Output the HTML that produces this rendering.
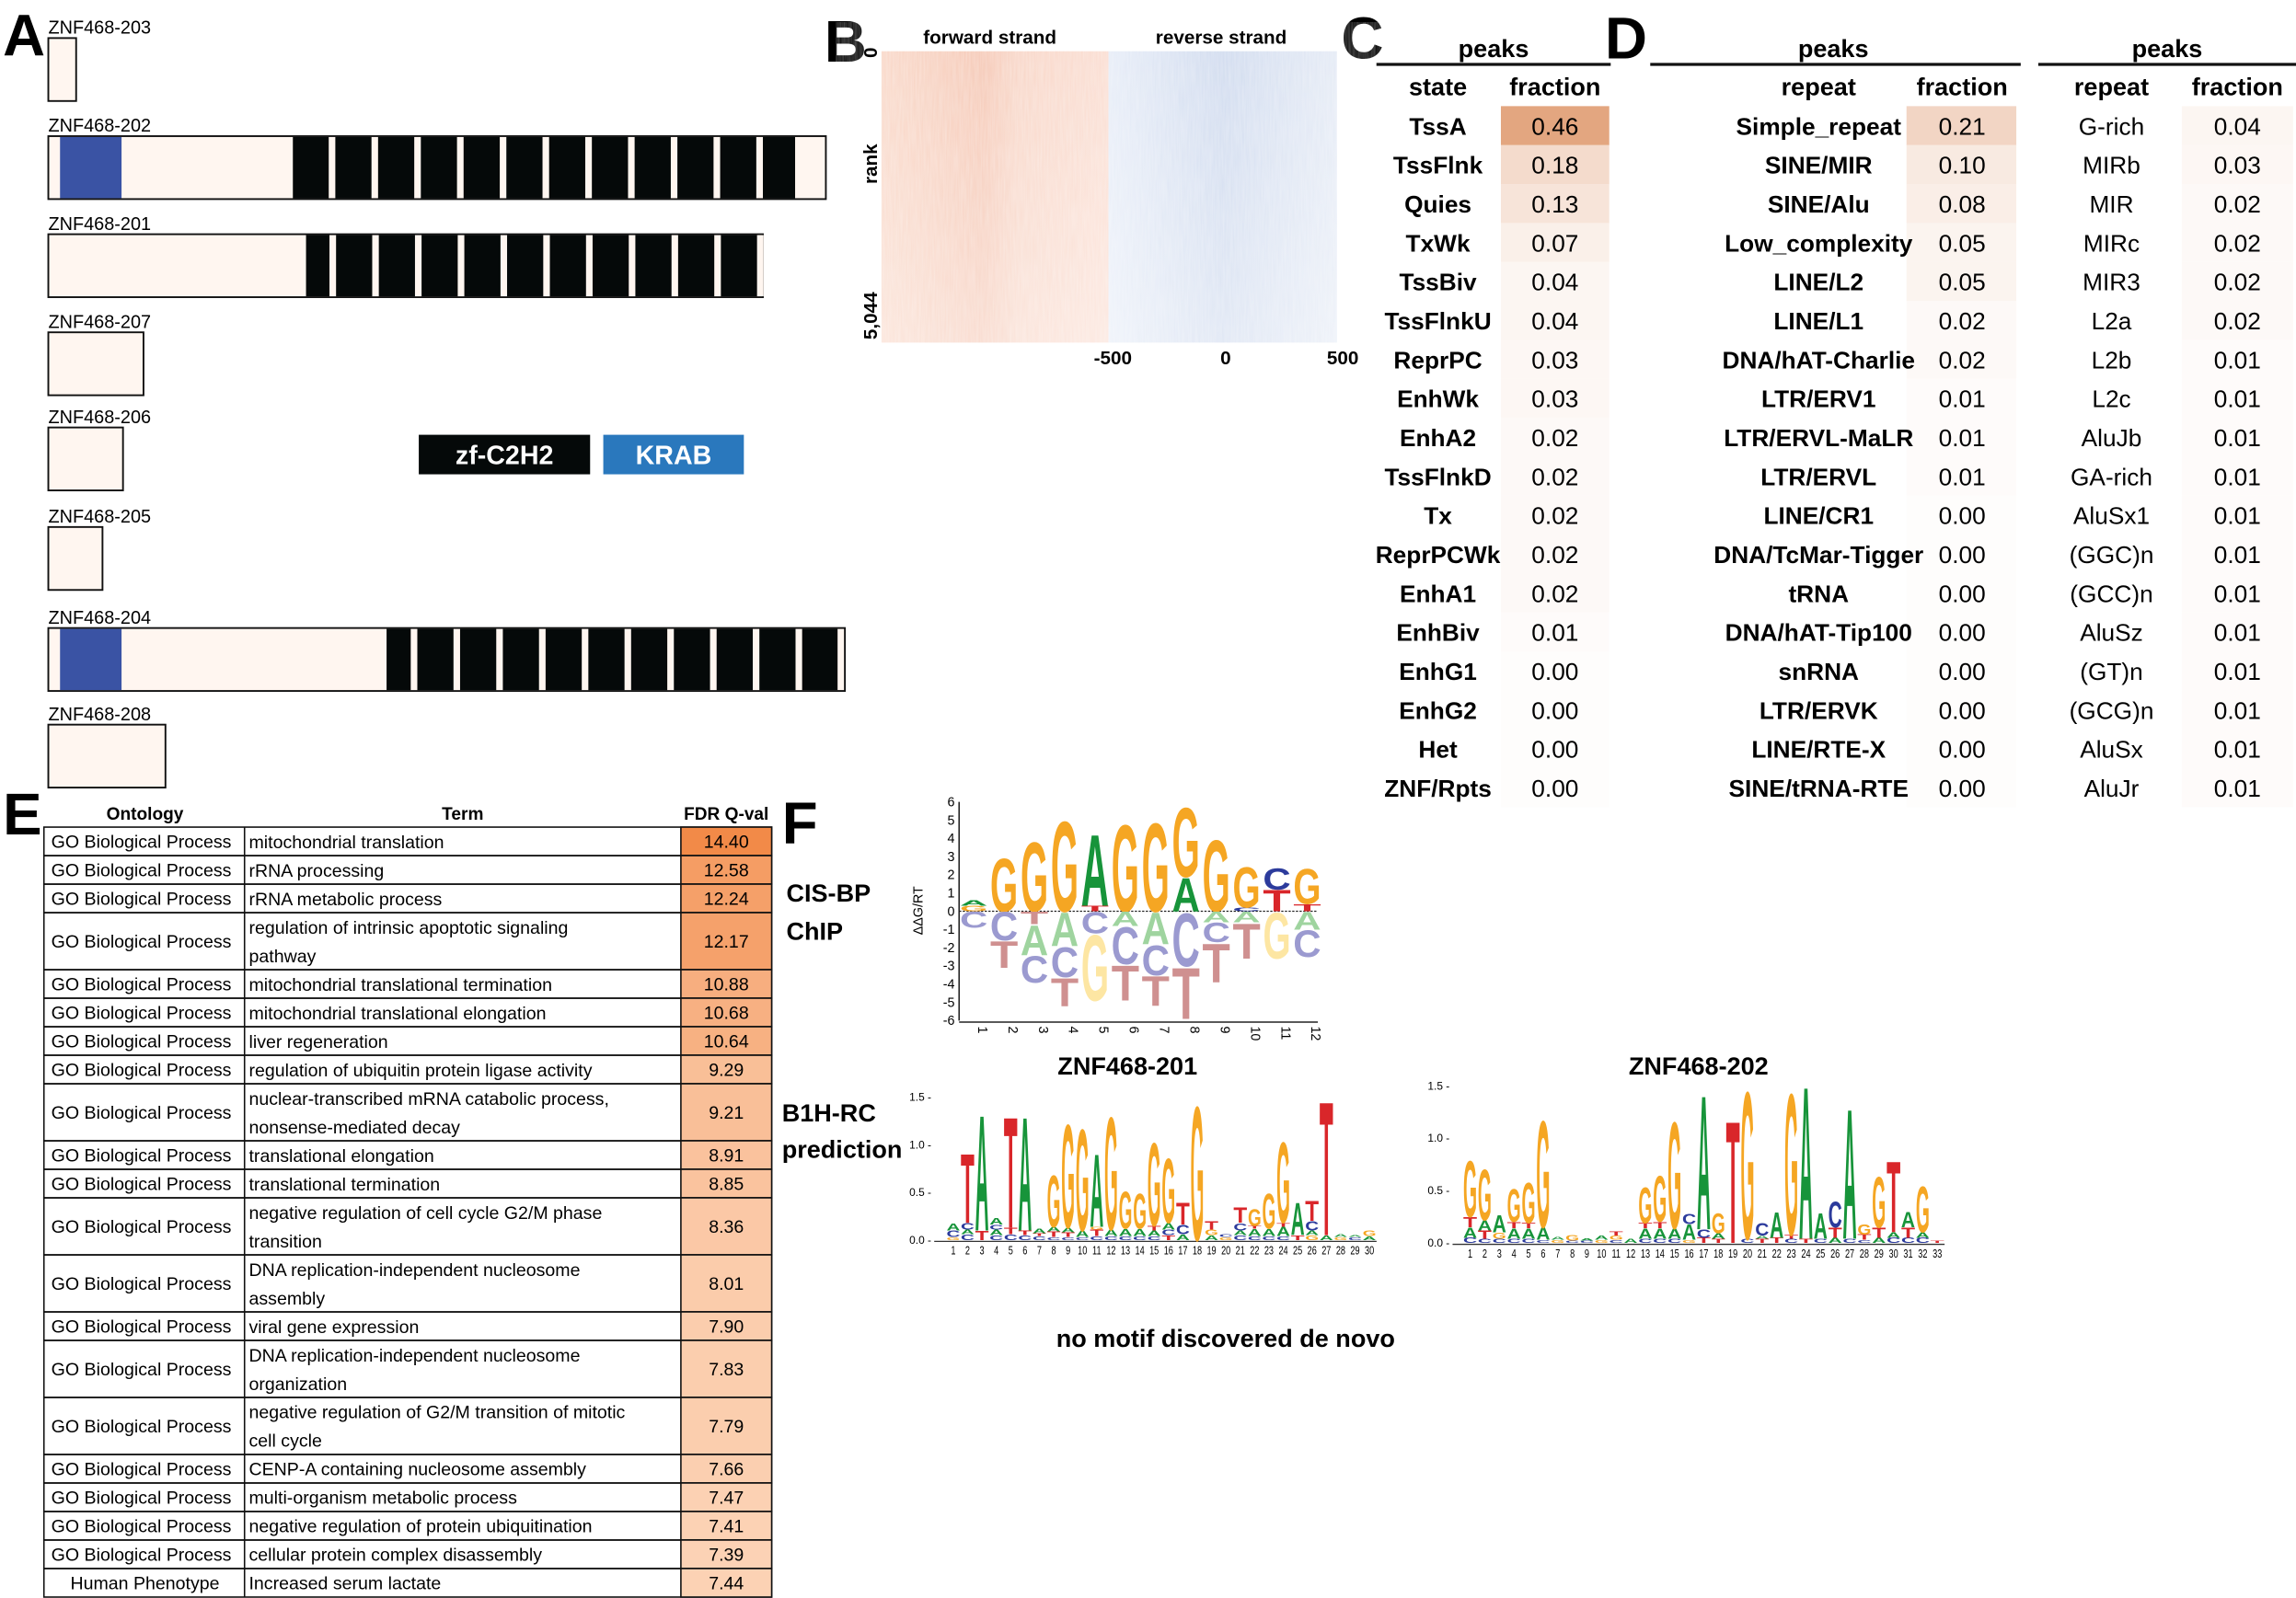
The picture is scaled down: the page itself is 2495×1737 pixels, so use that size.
<!DOCTYPE html>
<html><head><meta charset="utf-8"><style>
html,body{margin:0;padding:0;background:#fff;}
svg{display:block;font-family:"Liberation Sans",sans-serif;}
</style></head><body>
<svg id="fig" xmlns="http://www.w3.org/2000/svg" width="2495" height="1737" viewBox="0 0 1568 1091.6" preserveAspectRatio="none"></svg>
<script>
// ---------- data ----------
const transcriptNames=['ZNF468-203','ZNF468-202','ZNF468-201','ZNF468-207','ZNF468-206','ZNF468-205','ZNF468-204','ZNF468-208'];
const transcriptEnds=[52,564,521,98,84,70,577,113];
const transcriptTops=[26,93,160,227,292,360,429,495];
const krabRanges=[null,[41,83],null,null,null,null,[41,83],null];
const zfRanges=[null,[200,543],[209,518],null,null,null,[264,572],null];
const zfStripeStart=[null,224.5,225,null,null,null,280.5,null];

const states=['TssA','TssFlnk','Quies','TxWk','TssBiv','TssFlnkU','ReprPC','EnhWk','EnhA2','TssFlnkD','Tx','ReprPCWk','EnhA1','EnhBiv','EnhG1','EnhG2','Het','ZNF/Rpts'];
const stateFrac=[0.46,0.18,0.13,0.07,0.04,0.04,0.03,0.03,0.02,0.02,0.02,0.02,0.02,0.01,0.00,0.00,0.00,0.00];
const repeats=['Simple_repeat','SINE/MIR','SINE/Alu','Low_complexity','LINE/L2','LINE/L1','DNA/hAT-Charlie','LTR/ERV1','LTR/ERVL-MaLR','LTR/ERVL','LINE/CR1','DNA/TcMar-Tigger','tRNA','DNA/hAT-Tip100','snRNA','LTR/ERVK','LINE/RTE-X','SINE/tRNA-RTE'];
const repeatFrac=[0.21,0.10,0.08,0.05,0.05,0.02,0.02,0.01,0.01,0.01,0.00,0.00,0.00,0.00,0.00,0.00,0.00,0.00];
const repeats2=['G-rich','MIRb','MIR','MIRc','MIR3','L2a','L2b','L2c','AluJb','GA-rich','AluSx1','(GGC)n','(GCC)n','AluSz','(GT)n','(GCG)n','AluSx','AluJr'];
const repeatFrac2=[0.04,0.03,0.02,0.02,0.02,0.02,0.01,0.01,0.01,0.01,0.01,0.01,0.01,0.01,0.01,0.01,0.01,0.01];

const goOntology=['GO Biological Process','GO Biological Process','GO Biological Process','GO Biological Process','GO Biological Process','GO Biological Process','GO Biological Process','GO Biological Process','GO Biological Process','GO Biological Process','GO Biological Process','GO Biological Process','GO Biological Process','GO Biological Process','GO Biological Process','GO Biological Process','GO Biological Process','GO Biological Process','GO Biological Process','GO Biological Process','Human Phenotype'];
const goTerms=[['mitochondrial translation'],['rRNA processing'],['rRNA metabolic process'],['regulation of intrinsic apoptotic signaling','pathway'],['mitochondrial translational termination'],['mitochondrial translational elongation'],['liver regeneration'],['regulation of ubiquitin protein ligase activity'],['nuclear-transcribed mRNA catabolic process,','nonsense-mediated decay'],['translational elongation'],['translational termination'],['negative regulation of cell cycle G2/M phase','transition'],['DNA replication-independent nucleosome','assembly'],['viral gene expression'],['DNA replication-independent nucleosome','organization'],['negative regulation of G2/M transition of mitotic','cell cycle'],['CENP-A containing nucleosome assembly'],['multi-organism metabolic process'],['negative regulation of protein ubiquitination'],['cellular protein complex disassembly'],['Increased serum lactate']];
const goQ=[14.40,12.58,12.24,12.17,10.88,10.68,10.64,9.29,9.21,8.91,8.85,8.36,8.01,7.90,7.83,7.79,7.66,7.47,7.41,7.39,7.44];

const chipPos=[[['G',0.3],['A',0.3]],[['G',3.0]],[['G',3.9]],[['G',5.1]],[['T',0.3],['A',4.0]],[['G',4.9]],[['G',5.0]],[['A',1.9],['G',3.9]],[['G',4.0]],[['C',0.2],['G',2.3]],[['T',1.2],['C',1.2]],[['T',0.4],['G',2.0]]];
const chipNeg=[[['C',0.9]],[['C',1.6],['T',1.5]],[['T',0.7],['A',1.7],['C',1.5]],[['A',1.9],['C',1.7],['T',1.6]],[['C',1.2],['G',3.7]],[['A',0.8],['C',2.1],['T',2.0]],[['A',1.8],['C',1.7],['T',1.7]],[['C',3.0],['T',2.9]],[['A',0.6],['C',1.1],['T',2.2]],[['A',0.6],['T',2.0]],[['G',2.6]],[['A',1.0],['C',1.5]]];
const chipTicks=[-6,-5,-4,-3,-2,-1,0,1,2,3,4,5,6];

const b201=[[['G',0.03],['C',0.07],['A',0.08]],[['C',0.06],['A',0.05],['C',0.07],['T',0.75]],[['T',0.1],['A',1.25]],[['C',0.05],['A',0.06],['C',0.05],['A',0.07]],[['C',0.06],['T',0.07],['T',1.2]],[['C',0.05],['T',0.05],['A',1.23]],[['C',0.04],['T',0.03],['A',0.05]],[['C',0.03],['T',0.06],['A',0.05],['G',0.56]],[['C',0.03],['T',0.05],['A',0.05],['G',1.12]],[['C',0.03],['A',0.07],['G',1.1]],[['C',0.04],['T',0.07],['G',0.03],['A',0.79]],[['C',0.04],['A',0.07],['G',1.22]],[['C',0.04],['A',0.08],['G',0.4]],[['C',0.04],['A',0.08],['G',0.38]],[['C',0.04],['A',0.06],['T',0.05],['G',0.9]],[['T',0.05],['C',0.06],['A',0.07],['G',0.7]],[['A',0.06],['C',0.1],['T',0.24]],[['G',1.45]],[['A',0.05],['G',0.06],['T',0.09]],[['G',0.03],['C',0.03]],[['C',0.05],['A',0.05],['C',0.08],['T',0.17]],[['C',0.04],['A',0.08],['T',0.03],['G',0.18]],[['C',0.04],['A',0.08],['G',0.38]],[['C',0.04],['A',0.1],['T',0.04],['G',0.87]],[['T',0.05],['A',0.35]],[['G',0.05],['A',0.05],['C',0.1],['T',0.22]],[['A',0.05],['T',1.45]],[['G',0.03],['A',0.03]],[['C',0.03],['A',0.02]],[['A',0.04],['G',0.06]]];
const b202=[[['C',0.05],['A',0.1],['T',0.1],['G',0.55]],[['C',0.04],['T',0.08],['A',0.1],['G',0.5]],[['C',0.04],['G',0.06],['A',0.17]],[['C',0.04],['A',0.1],['T',0.06],['G',0.32]],[['C',0.04],['A',0.1],['T',0.05],['G',0.4]],[['C',0.03],['A',0.12],['G',1.05]],[['G',0.03],['A',0.03]],[['C',0.02],['G',0.05]],[['C',0.02],['A',0.02]],[['G',0.03],['A',0.04]],[['C',0.03],['G',0.04],['T',0.04]],[['A',0.04]],[['C',0.04],['A',0.1],['T',0.05],['G',0.35]],[['C',0.04],['A',0.1],['T',0.06],['G',0.45]],[['C',0.04],['A',0.1],['G',1.05]],[['G',0.03],['A',0.15],['C',0.1]],[['T',0.05],['C',0.08],['A',1.32]],[['T',0.04],['A',0.05],['G',0.2]],[['T',1.2]],[['C',0.04],['G',1.45]],[['T',0.04],['A',0.03],['C',0.12]],[['T',0.05],['A',0.25]],[['C',0.04],['T',0.04],['G',1.39]],[['T',0.04],['A',1.5]],[['C',0.04],['A',0.25]],[['A',0.05],['T',0.1],['C',0.25]],[['C',0.04],['A',1.28]],[['C',0.03],['T',0.05],['G',0.1]],[['A',0.05],['T',0.1],['G',0.5]],[['C',0.05],['A',0.05],['T',0.7]],[['C',0.05],['T',0.1],['A',0.15]],[['C',0.05],['A',0.05],['G',0.45]],[['T',0.02]]];
const b1hTicks=['0.0','0.5','1.0','1.5'];

// ---------- helpers ----------
const NS='http://www.w3.org/2000/svg';
const svg=document.getElementById('fig');
function mk(tag,attrs,parent){const e=document.createElementNS(NS,tag);for(const k in attrs)e.setAttribute(k,attrs[k]);(parent||svg).appendChild(e);return e;}
function tx(x,y,s,size,weight,anchor,parent,extra){const e=mk('text',Object.assign({x:x,y:y,'font-size':size,'font-weight':weight||'normal','text-anchor':anchor||'start'},extra||{}),parent);e.textContent=s;return e;}
function mixColor(c1,c2,t){t=Math.max(0,Math.min(1,t));const a=[1,3,5].map(i=>parseInt(c1.substr(i,2),16)),b=[1,3,5].map(i=>parseInt(c2.substr(i,2),16));return 'rgb('+a.map((v,i)=>Math.round(v+(b[i]-v)*t)).join(',')+')';}

// ---------- panel letters ----------
[['A',2,38],['B',563,42],['C',916,40],['D',1096,40],['E',2,570],['F',534,576]].forEach(p=>{
  const t=tx(p[1],p[2],p[0],40,'bold','start');
  
  
});

// ---------- panel A ----------
const gA=mk('g',{});


transcriptNames.forEach((n,i)=>{
  const top=transcriptTops[i],h=43;
  const lab=tx(33,top-3,n,12.5,'normal','start',gA);
  
  
  const box=mk('rect',{x:33,y:top,width:transcriptEnds[i]-33,height:h,fill:'#fff6f0',stroke:'#111','stroke-width':1.2},gA);
  
  
  if(krabRanges[i]){
    const k=mk('rect',{x:krabRanges[i][0],y:top+0.6,width:krabRanges[i][1]-krabRanges[i][0],height:h-1.2,fill:'#3a53a4'},gA);
    
    
  }
  if(zfRanges[i]){
    const z=mk('rect',{x:zfRanges[i][0],y:top+0.6,width:zfRanges[i][1]-zfRanges[i][0],height:h-1.2,fill:'#050909'},gA);
    
    
    for(let s=0;s<11;s++){
      const sx=zfStripeStart[i]+s*29.2;
      if(sx>zfRanges[i][1]-1)break;
      const st=mk('rect',{x:sx,y:top+0.6,width:4.5,height:h-1.2,fill:'#fff6f0'},gA);
      
      
    }
  }
});
const lg1=mk('rect',{x:286,y:297,width:117,height:27,fill:'#050909'});


const lt1=tx(344.5,317,'zf-C2H2',18,'bold','middle',null,{fill:'#fff'});


const lg2=mk('rect',{x:412,y:297,width:96,height:27,fill:'#2a78bd'});


const lt2=tx(460,317,'KRAB',18,'bold','middle',null,{fill:'#fff'});



// ---------- panel B ----------
const defs=mk('defs',{});
defs.innerHTML='<linearGradient id="gr" x1="0" x2="1"><stop offset="0" stop-color="#f9d7c7"/><stop offset="0.45" stop-color="#f5c7b4"/><stop offset="0.6" stop-color="#f8d5c6"/><stop offset="1" stop-color="#fadcd0"/></linearGradient>'+
'<linearGradient id="gb" x1="0" x2="1"><stop offset="0" stop-color="#e6ecf7"/><stop offset="0.5" stop-color="#cfdaee"/><stop offset="1" stop-color="#e4eaf5"/></linearGradient>'+
'<linearGradient id="gv" x1="0" y1="0" x2="0" y2="1"><stop offset="0" stop-color="#fff" stop-opacity="0"/><stop offset="1" stop-color="#fff" stop-opacity="0.35"/></linearGradient>'+
'<filter id="noise"><feTurbulence type="fractalNoise" baseFrequency="0.9 0.05" numOctaves="2" seed="3"/><feColorMatrix values="0 0 0 0 1  0 0 0 0 1  0 0 0 0 1  0 0 0 0.35 0"/></filter>';
const hmF=mk('rect',{x:602,y:35,width:155,height:199,fill:'url(#gr)'});


const hmR=mk('rect',{x:757,y:35,width:156,height:199,fill:'url(#gb)'});


const hmN=mk('rect',{x:602,y:35,width:311,height:199,filter:'url(#noise)'});


const hmV=mk('rect',{x:602,y:35,width:311,height:199,fill:'url(#gv)'});


const bl1=tx(676,30,'forward strand',13,'bold','middle');


const bl2=tx(834,30,'reverse strand',13,'bold','middle');


[['0',36],['rank',112],['5,044',232]].forEach(a=>{
  const t=tx(0,0,a[0],13,'bold',a[0]==='5,044'?'start':'middle',null,{transform:'translate(599,'+a[1]+') rotate(-90)'});
  
  
});
[['-500',760],['0',837],['500',917]].forEach(a=>{
  const t=tx(a[1],249,a[0],13,'bold','middle');
  
  
});

// ---------- panels C / D tables ----------
function drawTable(name,x0,x1,peaksX,labX,fracX,cellX0,cellX1,labels,vals,boldLab){
  const g=mk('g',{});
  
  
  const p=tx(peaksX,39,'peaks',17,'bold','middle',g);
  
  
  const ln=mk('line',{x1:x0,x2:x1,y1:44,y2:44,stroke:'#111','stroke-width':2},g);
  
  
  const h1=tx(labX,65,labels===states?'state':'repeat',17,'bold','middle',g);
  
  
  const h2=tx(fracX,65,'fraction',17,'bold','middle',g);
  
  
  labels.forEach((l,i)=>{
    const y=72.5+i*26.6;
    const c=mk('rect',{x:cellX0,y:y,width:cellX1-cellX0,height:26.7,fill:mixColor('#ffffff','#e2a37c',vals[i]/0.46*0.95+0.02)},g);
    
    
    const t=tx(labX,y+19.5,l,16.5,boldLab?'bold':'normal','middle',g);
    
    
    const v=tx(fracX,y+19.5,vals[i].toFixed(2),16.5,'normal','middle',g);
    
    
  });
}
drawTable('chromatin-state-table',940,1100,1020,982,1062,1025,1099,states,stateFrac,true);
drawTable('repeat-family-table',1127,1380,1252,1242,1340,1302,1377,repeats,repeatFrac,true);
drawTable('repeat-subfamily-table',1392,1568,1480,1442,1528,1490,1566,repeats2,repeatFrac2,false);

// ---------- panel E ----------
const gE=mk('g',{});


[['Ontology',99],['Term',316],['FDR Q-val',496]].forEach(a=>{
  const t=tx(a[1],560,a[0],12,'bold','middle',gE);
  
  
});
let ry=565;const rh=19.48;
goTerms.forEach((term,i)=>{
  const h=rh*term.length;
  const r=mk('rect',{x:30,y:ry,width:497,height:h,fill:'none',stroke:'#111','stroke-width':1},gE);
  
  
  const c=mk('rect',{x:465,y:ry,width:62,height:h,fill:mixColor('#fcd3b6','#f28a48',(goQ[i]-7.3)/(14.4-7.3)),stroke:'#111','stroke-width':1},gE);
  
  
  const d=mk('line',{x1:167,x2:167,y1:ry,y2:ry+h,stroke:'#111','stroke-width':1},gE);
  
  
  const o=tx(goOntology[i]==='Human Phenotype'?99:35,ry+h/2+4.3,goOntology[i],12.3,'normal',goOntology[i]==='Human Phenotype'?'middle':'start',gE);
  
  
  term.forEach((tl,j)=>{
    const t=tx(170,ry+j*rh+14.3,tl,12.3,'normal','start',gE);
    
    
  });
  const q=tx(496,ry+h/2+4.3,goQ[i].toFixed(2),12.3,'normal','middle',gE);
  
  
  ry+=h;
});

// ---------- panel F: logos ----------
const posCol={G:'#f5a623',A:'#17943a',C:'#2c3b9c',T:'#d9262a'};
const negCol={G:'#fde6a3',A:'#9fd49f',C:'#9b9ad0',T:'#cf9090'};
function letter(g,ch,cx,bottom,w,hpx,fill){
  if(hpx<0.3)return;
  const gw={G:7.8,A:7.2,C:7.2,T:6.1}[ch];
  const t=mk('text',{x:0,y:0,'font-size':10,'font-weight':'bold','text-anchor':'middle',fill:fill,transform:'translate('+cx+','+bottom+') scale('+(w/gw)+','+(hpx/7.2)+')'},g);
  t.textContent=ch;
  
  
}
// ChIP logo
const gC=mk('g',{});


const cx0=665,cstep=20.7,czero=622.5,cunit=12.45;
const cX=i=>cx0+i*cstep, cY=v=>czero-v*cunit;
const cax=mk('line',{x1:655,x2:655,y1:cY(6),y2:cY(-6),stroke:'#222','stroke-width':1},gC);


const cbx=mk('line',{x1:655,x2:900,y1:cY(-6)+1,y2:cY(-6)+1,stroke:'#222','stroke-width':1},gC);


const cz=mk('line',{x1:655,x2:900,y1:czero,y2:czero,stroke:'#222','stroke-width':0.8,'stroke-dasharray':'1.5,1'},gC);


chipTicks.forEach(v=>{
  const t=tx(652,cY(v)+3,String(v),9,'normal','end',gC);
  
  
});
const cyl=tx(0,0,'ΔΔG/RT',9,'normal','middle',gC,{transform:'translate(630,622) rotate(-90)'});


chipPos.forEach((col,i)=>{
  let cur=0;
  col.forEach(l=>{letter(gC,l[0],cX(i),cY(cur),19,l[1]*cunit,posCol[l[0]]);cur+=l[1];});
  let nc=0;
  chipNeg[i].forEach(l=>{nc-=l[1];letter(gC,l[0],cX(i),cY(nc),19,l[1]*cunit,negCol[l[0]]);});
  const t=tx(0,0,String(i+1),9,'normal','start',gC,{transform:'translate('+(cX(i)+3)+',701) rotate(90)'});
  
  
});
[['CIS-BP',537,616],['ChIP',537,642],['B1H-RC',534,766],['prediction',534,791]].forEach(a=>{
  const t=tx(a[1],a[2],a[0],17,'bold','start');
  
  
});
// B1H logos
function b1hLogo(name,data,x0,step,zero,unit,axisX,titleX){
  const g=mk('g',{});
  
  
  const ti=tx(titleX,734,name==='b1h-logo-201'?'ZNF468-201':'ZNF468-202',17,'bold','middle',g);
  
  
  b1hTicks.forEach(s=>{
    const v=parseFloat(s);
    const t=tx(axisX,zero-v*unit+2.5,s+' -',7.5,'normal','end',g);
    
    
  });
  const ax=mk('line',{x1:axisX+2,x2:x0+(data.length-0.5)*step,y1:zero+1,y2:zero+1,stroke:'#333','stroke-width':0.8},g);
  
  
  data.forEach((col,i)=>{
    let cur=0;
    col.forEach(l=>{letter(g,l[0],x0+i*step,zero-cur*unit,step*0.95,l[1]*unit,posCol[l[0]]);cur+=l[1];});
    const t=tx(0,0,String(i+1),8,'normal','middle',g,{transform:'translate('+(x0+i*step)+','+(zero+10)+') scale(0.72,1)'});
    
    
  });
}
b1hLogo('b1h-logo-201',b201,651,9.8,847,65,636,770);
b1hLogo('b1h-logo-202',b202,1004,9.97,849,71.5,990,1160);
const nm=tx(837,920,'no motif discovered de novo',17,'bold','middle');


</script>
</body></html>
